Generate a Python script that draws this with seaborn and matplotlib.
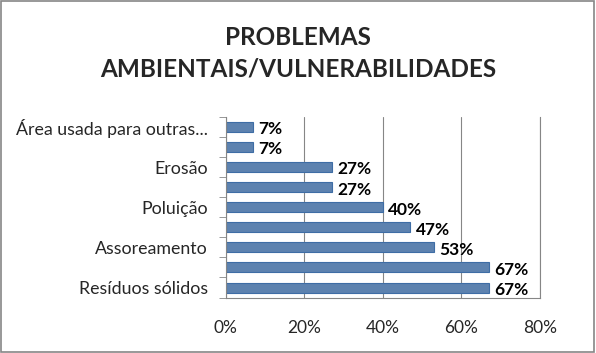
import numpy as np
import pandas as pd
import matplotlib.pyplot as plt
import seaborn as sns

# Chart data (top to bottom as drawn)
labels = ['Área usada para outras...', '', 'Erosão', '', 'Poluição', '', 'Assoreamento', '', 'Resíduos sólidos']
values = [7, 7, 27, 27, 40, 47, 53, 67, 67]
xticks = [0, 20, 40, 60, 80]
title = 'PROBLEMAS\nAMBIENTAIS/VULNERABILIDADES'

df = pd.DataFrame({'pos': [str(i) for i in range(len(values))], 'value': values})

sns.set_style('white')
plt.rcParams['font.family'] = ['Lato', 'DejaVu Sans']

fig = plt.figure(figsize=(5.96, 3.53), dpi=100)
ax = fig.add_axes([0.379, 0.157, 0.527, 0.512])

sns.barplot(data=df, x='value', y='pos', orient='y', color='#4F81BD',
            edgecolor='#3E6DA5', linewidth=0.8, width=0.5, ax=ax)

for i, v in enumerate(values):
    ax.text(v + 1.3, i + 0.12, f'{v}%', va='center', ha='left',
            fontsize=12.5, fontweight='bold', color='black')

ax.set_xlim(0, 80)
ax.set_ylim(len(values) - 0.5, -0.5)
ax.set_xticks(xticks)
ax.set_xticklabels([f'{t}%' for t in xticks], fontsize=12.5)
ax.set_yticks(range(len(values)))
ax.set_yticklabels(labels, fontsize=12.8)
ax.tick_params(axis='y', length=0, pad=13)
ax.tick_params(axis='x', length=4, pad=12, color='#868686')
ax.set_yticks(np.arange(-0.5, len(values), 1), minor=True)
ax.tick_params(axis='y', which='minor', length=5, color='#868686', left=True)
ax.set_xlabel('')
ax.set_ylabel('')

ax.grid(axis='x', color='#868686', linewidth=0.8)
ax.set_axisbelow(True)
ax.spines['top'].set_visible(False)
for side in ['right', 'left', 'bottom']:
    ax.spines[side].set_color('#868686')

fig.text(0.5, 0.85, title, ha='center', va='center', fontsize=17.5,
         fontweight='bold', linespacing=1.45)

border = plt.Rectangle((0.002, 0.003), 0.995, 0.994, transform=fig.transFigure,
                       fill=False, edgecolor='#868686', linewidth=1.2)
fig.patches.append(border)

plt.savefig('out.png', dpi=100)
